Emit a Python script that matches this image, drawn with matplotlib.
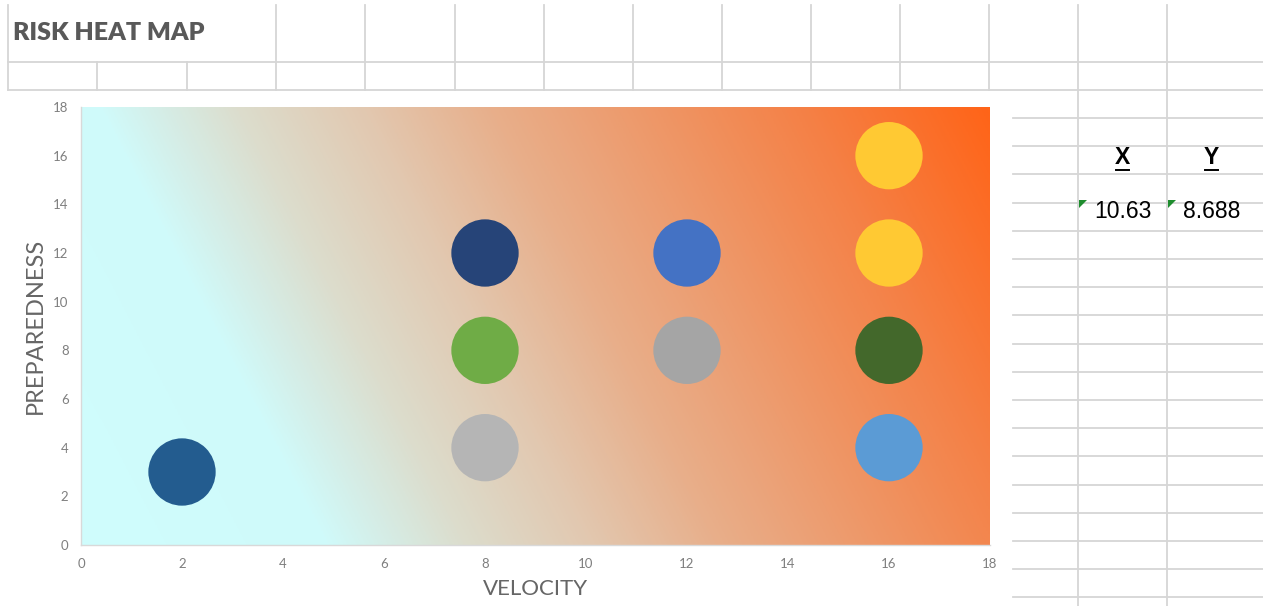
import matplotlib
matplotlib.use("Agg")
import matplotlib.pyplot as plt
import numpy as np
from matplotlib.colors import LinearSegmentedColormap
from matplotlib.patches import Polygon

# --- data -----------------------------------------------------------------
velocity = [2, 8, 8, 8, 12, 12, 16, 16, 16, 16]
preparedness = [3, 4, 8, 12, 8, 12, 4, 8, 12, 16]
point_colors = ["#235C8F", "#B5B5B5", "#6FAC46", "#264478", "#A5A5A5",
                "#4472C4", "#5B9BD5", "#43682B", "#FFC933", "#FFC933"]
ticks = [0, 2, 4, 6, 8, 10, 12, 14, 16, 18]
result_x = "10.63"
result_y = "8.688"

W, H = 1263, 606
fig = plt.figure(figsize=(W / 100, H / 100), dpi=100)
fig.patch.set_facecolor("white")

# --- spreadsheet grid drawn in pixel coordinates --------------------------
bg = fig.add_axes([0, 0, 1, 1])
bg.set_xlim(0, W)
bg.set_ylim(H, 0)
bg.axis("off")
grid_kw = dict(color="#D6D6D6", lw=1.3, zorder=0)

cols = [8, 97, 187, 276, 365, 455, 544, 633, 722, 811, 900, 989, 1078, 1167]
for cx in cols:
    if cx in (97, 187):
        bg.plot([cx, cx], [62, 90], **grid_kw)
    elif cx in (1078, 1167):
        bg.plot([cx, cx], [5, H], **grid_kw)
    else:
        bg.plot([cx, cx], [5, 90], **grid_kw)
for ry in (62, 90):
    bg.plot([8, W], [ry, ry], **grid_kw)
for k in range(18):
    ry = 118 + 28.2 * k
    if ry > H:
        break
    bg.plot([1013, W], [ry, ry], **grid_kw)

bg.text(13, 33, "RISK HEAT MAP", fontsize=18, fontweight="heavy",
        family=["Lato", "DejaVu Sans"], color="#595959", va="center", ha="left")

# result table
tbl_font = ["Liberation Sans", "DejaVu Sans"]
bg.text(1122.5, 158, "X", fontsize=16.5, fontweight="bold", family=tbl_font,
        ha="center", va="center", color="black")
bg.text(1211.5, 158, "Y", fontsize=16.5, fontweight="bold", family=tbl_font,
        ha="center", va="center", color="black")
bg.plot([1116, 1129], [170, 170], color="black", lw=1.4)
bg.plot([1205, 1218], [170, 170], color="black", lw=1.4)
bg.text(1122.5, 212, result_x, fontsize=16.5, family=tbl_font,
        ha="center", va="center", color="black")
bg.text(1211.5, 212, result_y, fontsize=16.5, family=tbl_font,
        ha="center", va="center", color="black")
for cx in (1079, 1168):
    bg.add_patch(Polygon([[cx, 200], [cx + 8, 200], [cx, 208]],
                         closed=True, color="#1E8C2E", lw=0))

# --- chart ----------------------------------------------------------------
ax = fig.add_axes([81 / W, 1 - 545 / H, (990 - 81) / W, (545 - 107) / H])
ax.set_xlim(ticks[0], ticks[-1])
ax.set_ylim(ticks[0], ticks[-1])

# diagonal colour wash behind the points
stops = [(0.00, "#CFFDFD"), (0.27, "#D0FAFA"), (0.42, "#DCDDCD"),
         (0.56, "#E2C8B0"), (0.70, "#E8AF8B"), (0.90, "#EF9463"),
         (1.05, "#F58045"), (1.25, "#FF6418")]
cmap = LinearSegmentedColormap.from_list(
    "wash", [(p / 1.25, c) for p, c in stops])
xn, yn = np.meshgrid(np.linspace(0, 1, 600), np.linspace(0, 1, 300))
tval = (xn + 0.25 * yn) / 1.25
ax.imshow(tval, cmap=cmap, vmin=0, vmax=1, origin="lower",
          extent=[ticks[0], ticks[-1], ticks[0], ticks[-1]],
          aspect="auto", zorder=0, interpolation="bilinear")

ax.scatter(velocity, preparedness, s=2350, c=point_colors,
           edgecolors="none", zorder=3)

ax.set_xticks(ticks)
ax.set_yticks(ticks)
tick_font = ["Lato", "DejaVu Sans"]
ax.tick_params(length=0, labelsize=9.5, labelcolor="#7F7F7F", pad=9)
for lbl in ax.get_xticklabels() + ax.get_yticklabels():
    lbl.set_family(tick_font)
for side in ("top", "right"):
    ax.spines[side].set_visible(False)
for side in ("left", "bottom"):
    ax.spines[side].set_color("#D9D9D9")
    ax.spines[side].set_linewidth(1.0)

ax.set_xlabel("VELOCITY", fontsize=16, color="#666666", fontweight="normal",
              family=tick_font, labelpad=7)
ax.set_ylabel("PREPAREDNESS", fontsize=17, color="#666666", fontweight="normal",
              family=tick_font, labelpad=5)

fig.savefig("out.png", dpi=100, facecolor="white")
